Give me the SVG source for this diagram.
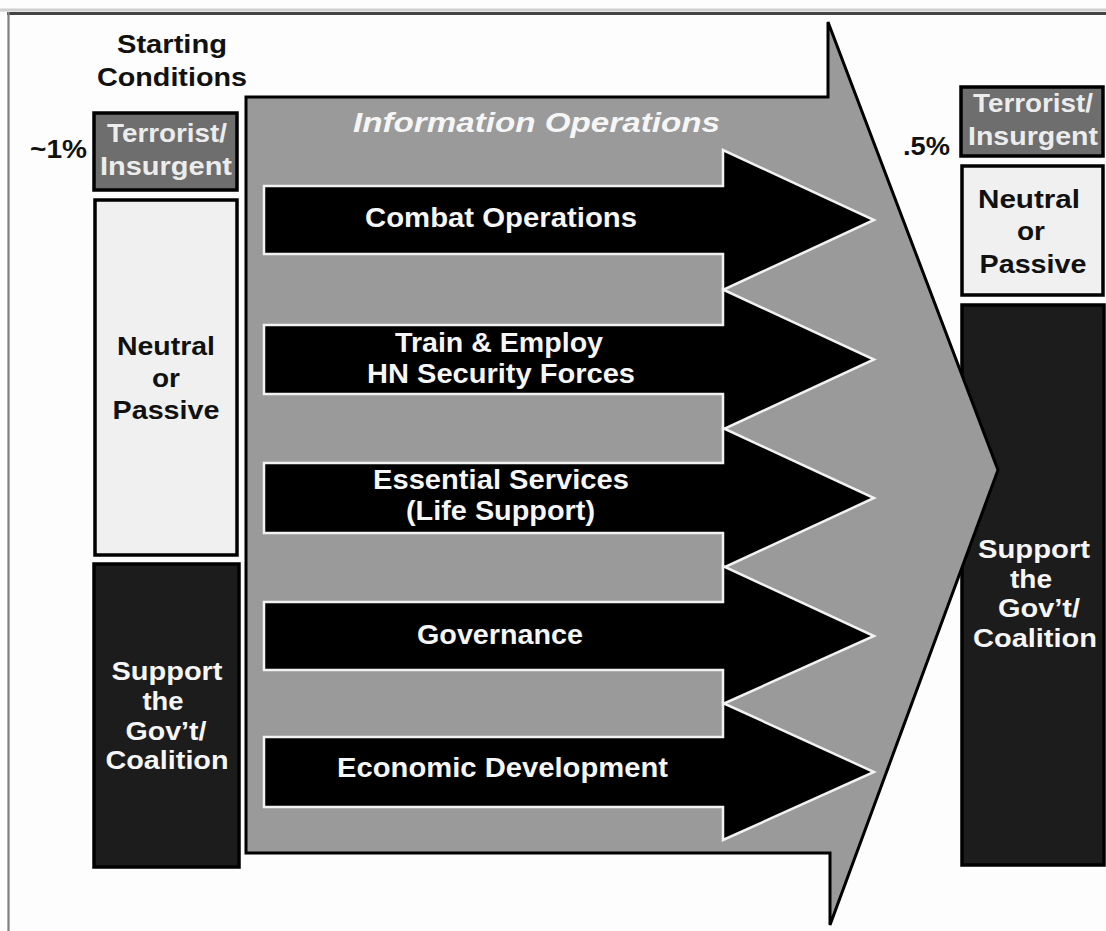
<svg xmlns="http://www.w3.org/2000/svg" width="1106" height="931" viewBox="0 0 1106 931">
<style>
text{font-family:"Liberation Sans",Arial,Helvetica,sans-serif;font-weight:bold;}
.box{stroke:#000;stroke-width:3.5;}
.terr{fill:#6e6e6e;}
.neut{fill:#f0f0f0;}
.supp{fill:#1c1c1c;}
.bt{font-size:25px;text-anchor:middle;}
.dk{fill:#111;}
.lt{fill:#ececec;}
.wt{fill:#f6f6f6;}
.arr{fill:#000;stroke:#f2f2f2;stroke-width:2.5;stroke-linejoin:miter;}
.at{font-size:27px;text-anchor:middle;fill:#f6f6f6;}
</style>
<rect x="0" y="0" width="1106" height="931" fill="#fdfdfd"/>
<g id="frame">
<line x1="0" y1="10" x2="1106" y2="10" stroke="#d0d0d0" stroke-width="3"/>
<line x1="7" y1="13.5" x2="1106" y2="13.5" stroke="#444" stroke-width="3"/>
<line x1="8.5" y1="12" x2="8.5" y2="931" stroke="#808080" stroke-width="2.2"/>
</g>
<g id="starting-conditions">
<text class="bt dk" x="172" y="53" textLength="110" lengthAdjust="spacingAndGlyphs">Starting</text>
<text class="bt dk" x="172" y="86" textLength="150" lengthAdjust="spacingAndGlyphs">Conditions</text>
</g>
<g id="left-pct">
<text class="dk" x="30" y="158" font-size="25" textLength="57" lengthAdjust="spacingAndGlyphs">~1%</text>
</g>
<g id="left-terrorist">
<rect class="box terr" x="94" y="113" width="143" height="77"/>
<text class="bt lt" x="167" y="142" textLength="120" lengthAdjust="spacingAndGlyphs">Terrorist/</text>
<text class="bt lt" x="166" y="175" textLength="132" lengthAdjust="spacingAndGlyphs">Insurgent</text>
</g>
<g id="left-neutral">
<rect class="box neut" x="95" y="200" width="142" height="355"/>
<text class="bt dk" x="166" y="355" textLength="98" lengthAdjust="spacingAndGlyphs">Neutral</text>
<text class="bt dk" x="166" y="387" textLength="28" lengthAdjust="spacingAndGlyphs">or</text>
<text class="bt dk" x="166" y="419" textLength="107" lengthAdjust="spacingAndGlyphs">Passive</text>
</g>
<g id="left-support">
<rect class="box supp" x="94" y="564" width="145" height="303"/>
<text class="bt wt" x="167" y="680" textLength="111" lengthAdjust="spacingAndGlyphs">Support</text>
<text class="bt wt" x="163" y="710" textLength="41" lengthAdjust="spacingAndGlyphs">the</text>
<text class="bt wt" x="166" y="740" textLength="81" lengthAdjust="spacingAndGlyphs">Gov’t/</text>
<text class="bt wt" x="167" y="769" textLength="123" lengthAdjust="spacingAndGlyphs">Coalition</text>
</g>
<g id="right-pct">
<text class="dk" x="903" y="155" font-size="25" textLength="47" lengthAdjust="spacingAndGlyphs">.5%</text>
</g>
<g id="right-terrorist">
<rect class="box terr" x="961" y="87" width="142" height="69"/>
<text class="bt lt" x="1033" y="112" textLength="120" lengthAdjust="spacingAndGlyphs">Terrorist/</text>
<text class="bt lt" x="1033" y="145" textLength="130" lengthAdjust="spacingAndGlyphs">Insurgent</text>
</g>
<g id="right-neutral">
<rect class="box neut" x="962" y="166" width="141" height="129"/>
<text class="bt dk" x="1029" y="208" textLength="102" lengthAdjust="spacingAndGlyphs">Neutral</text>
<text class="bt dk" x="1031" y="240" textLength="28" lengthAdjust="spacingAndGlyphs">or</text>
<text class="bt dk" x="1033" y="273" textLength="107" lengthAdjust="spacingAndGlyphs">Passive</text>
</g>
<g id="right-support">
<rect class="box supp" x="962" y="305" width="142" height="560"/>
<text class="bt wt" x="1034" y="558" textLength="112" lengthAdjust="spacingAndGlyphs">Support</text>
<text class="bt wt" x="1031" y="588" textLength="42" lengthAdjust="spacingAndGlyphs">the</text>
<text class="bt wt" x="1039" y="617" textLength="82" lengthAdjust="spacingAndGlyphs">Gov’t/</text>
<text class="bt wt" x="1035" y="647" textLength="124" lengthAdjust="spacingAndGlyphs">Coalition</text>
</g>
<g id="information-operations">
<polygon points="246,97 828,97 828,22 998,470 830,925 830,853 246,853" fill="#9a9a9a" stroke="#000" stroke-width="3" stroke-linejoin="miter"/>
<text x="536.5" y="132" font-size="28" font-style="italic" text-anchor="middle" fill="#f6f6f6" textLength="367" lengthAdjust="spacingAndGlyphs">Information Operations</text>
</g>
<g id="combat-operations">
<polygon class="arr" points="264,186 723,186 723,150 874,220 723,290 723,254 264,254"/>
<text class="at" x="501" y="227" textLength="272" lengthAdjust="spacingAndGlyphs">Combat Operations</text>
</g>
<g id="train-employ">
<polygon class="arr" points="264,325 723,325 723,289.5 874,359.5 723,429.5 723,394 264,394"/>
<text class="at" x="499" y="352" textLength="208" lengthAdjust="spacingAndGlyphs">Train &amp; Employ</text>
<text class="at" x="501" y="383" textLength="268" lengthAdjust="spacingAndGlyphs">HN Security Forces</text>
</g>
<g id="essential-services">
<polygon class="arr" points="264,463 723,463 723,428 874,498 723,568 723,533 264,533"/>
<text class="at" x="501" y="489" textLength="256" lengthAdjust="spacingAndGlyphs">Essential Services</text>
<text class="at" x="500.5" y="520" textLength="189" lengthAdjust="spacingAndGlyphs">(Life Support)</text>
</g>
<g id="governance">
<polygon class="arr" points="264,602 723,602 723,566 874,636 723,704 723,670 264,670"/>
<text class="at" x="500" y="644" textLength="166" lengthAdjust="spacingAndGlyphs">Governance</text>
</g>
<g id="economic-development">
<polygon class="arr" points="264,737 723,737 723,703 874,772 723,840 723,807 264,807"/>
<text class="at" x="502.5" y="777" textLength="331" lengthAdjust="spacingAndGlyphs">Economic Development</text>
</g>
<g id="connectors"></g>
</svg>
